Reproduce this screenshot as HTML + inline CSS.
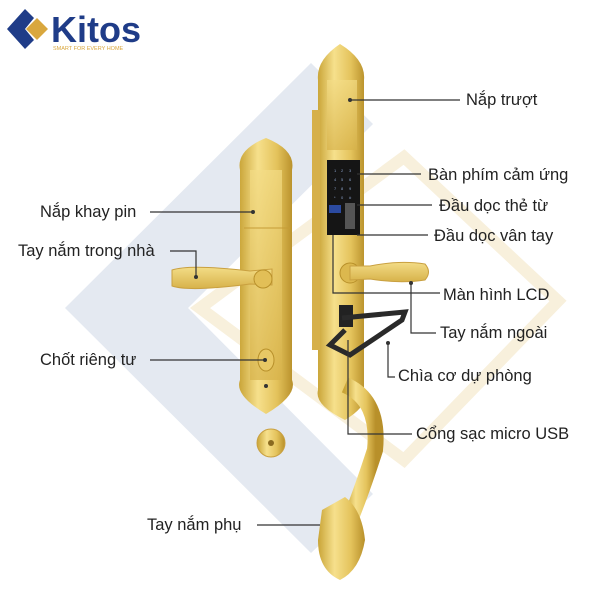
<!DOCTYPE html>
<html><head><meta charset="utf-8"><style>
html,body{margin:0;padding:0;background:#fff;}
svg{display:block;}
text{font-family:"Liberation Sans",sans-serif;}
.l{font-size:16.5px;fill:#222;}
</style></head><body>
<svg width="600" height="600" viewBox="0 0 600 600" xmlns="http://www.w3.org/2000/svg">
<defs>
<linearGradient id="g" x1="0" x2="1" y1="0" y2="0">
<stop offset="0" stop-color="#c9a437"/><stop offset="0.35" stop-color="#f6e08c"/><stop offset="0.7" stop-color="#e4c35c"/><stop offset="1" stop-color="#b8902a"/>
</linearGradient>
<linearGradient id="gv" x1="0" x2="0" y1="0" y2="1">
<stop offset="0" stop-color="#f3dc86"/><stop offset="1" stop-color="#d7b24a"/>
</linearGradient>
</defs>
<polygon points="65,308 311,63 373,124 188,308" fill="#e4e9f1"/>
<polygon points="65,308 311,553 373,494 188,308" fill="#e4e9f1"/>
<polygon points="404,157 558,301 404,460 200,308" fill="none" stroke="#f8f0dc" stroke-width="12"/>

<polygon points="25,9 7,29 25,49 34,40 25,29 34,18" fill="#1f3c88"/>
<polygon points="37,18 48,29 37,40 26,29" fill="#d9a73e"/>
<text x="51" y="42" font-size="36" font-weight="bold" fill="#1f3c88">Kitos</text>
<text x="53" y="50" font-size="5.5" fill="#d9a73e">SMART FOR EVERY HOME</text>

<path d="M240,170 Q236,150 266,138 Q296,150 292,170 L292,380 Q298,395 266,414 Q234,395 240,380 Z" fill="url(#g)"/>
<rect x="250" y="170" width="32" height="210" fill="url(#gv)" opacity="0.7"/>
<line x1="244" y1="228" x2="290" y2="228" stroke="#c69c36" stroke-width="1"/>
<path d="M172,270 Q190,264 250,271 L272,269 L272,285 L250,284 Q190,292 172,286 Z" fill="url(#gv)" stroke="#c9a040" stroke-width="1"/>
<circle cx="263" cy="279" r="9" fill="#e2bf57" stroke="#b8902a"/>
<ellipse cx="266" cy="360" rx="8" ry="11" fill="#e8c865" stroke="#b8902a"/>
<circle cx="266" cy="386" r="2" fill="#333"/>
<circle cx="271" cy="443" r="14" fill="url(#g)" stroke="#c9a040"/>
<circle cx="271" cy="443" r="3" fill="#8a6a20"/>

<path d="M318,80 Q316,60 340,44 Q366,60 364,80 L364,390 Q370,405 345,420 Q314,405 318,390 Z" fill="url(#g)"/>
<rect x="327" y="80" width="30" height="70" fill="url(#gv)" opacity="0.7"/>
<rect x="312" y="110" width="8" height="240" fill="#d6b04a"/>
<rect x="327" y="160" width="33" height="75" fill="#151515"/>
<rect x="329" y="205" width="12" height="8" fill="#2b4aa0"/>
<rect x="345" y="203" width="10" height="26" fill="#555"/>
<g fill="#8aa0c8" font-size="4">
<text x="334" y="172">1</text><text x="341" y="172">2</text><text x="349" y="172">3</text>
<text x="334" y="181">4</text><text x="341" y="181">5</text><text x="349" y="181">6</text>
<text x="334" y="190">7</text><text x="341" y="190">8</text><text x="349" y="190">9</text>
<text x="334" y="199">*</text><text x="341" y="199">0</text><text x="349" y="199">#</text>
</g>
<circle cx="350" cy="273" r="10" fill="#dcb84e" stroke="#b8902a"/>
<path d="M350,266 L370,266 Q400,260 425,264 Q432,272 425,280 Q400,284 370,279 L350,280 Z" fill="url(#gv)" stroke="#c9a040" stroke-width="1"/>
<rect x="339" y="305" width="14" height="22" fill="#222"/>
<path d="M342,318 L405,312 L402,320 L350,355 L330,345 L345,330" fill="none" stroke="#2a2a2a" stroke-width="5"/>
<path d="M345,385 Q380,400 375,450 Q362,490 352,515" fill="none" stroke="url(#g)" stroke-width="16"/>
<path d="M322,510 L345,497 Q362,510 365,540 Q360,570 340,580 Q318,570 318,540 Z" fill="url(#g)"/>

<g stroke="#333" stroke-width="1.2" fill="none">
<polyline points="350,100 460,100"/>
<polyline points="357,174 421,174"/>
<polyline points="357,205 432,205"/>
<polyline points="357,235 428,235"/>
<polyline points="333,235 333,293 440,293"/>
<polyline points="411,283 411,333 436,333"/>
<polyline points="388,343 388,377 395,377"/>
<polyline points="348,340 348,434 412,434"/>
<polyline points="150,212 253,212"/>
<polyline points="170,251 196,251 196,277"/>
<polyline points="150,360 265,360"/>
<polyline points="257,525 320,525"/>
</g>
<g fill="#333">
<circle cx="350" cy="100" r="2"/><circle cx="253" cy="212" r="2"/><circle cx="196" cy="277" r="2"/>
<circle cx="265" cy="360" r="2"/><circle cx="411" cy="283" r="2"/><circle cx="388" cy="343" r="2"/>
</g>

<text class="l" x="466" y="105">Nắp trượt</text>
<text class="l" x="428" y="180">Bàn phím cảm ứng</text>
<text class="l" x="439" y="211">Đầu dọc thẻ từ</text>
<text class="l" x="434" y="241">Đầu dọc vân tay</text>
<text class="l" x="443" y="300">Màn hình LCD</text>
<text class="l" x="440" y="338">Tay nắm ngoài</text>
<text class="l" x="398" y="381">Chìa cơ dự phòng</text>
<text class="l" x="416" y="439">Cổng sạc micro USB</text>
<text class="l" x="40" y="217">Nắp khay pin</text>
<text class="l" x="18" y="256">Tay nắm trong nhà</text>
<text class="l" x="40" y="365">Chốt riêng tư</text>
<text class="l" x="147" y="530">Tay nắm phụ</text>
</svg>
</body></html>
